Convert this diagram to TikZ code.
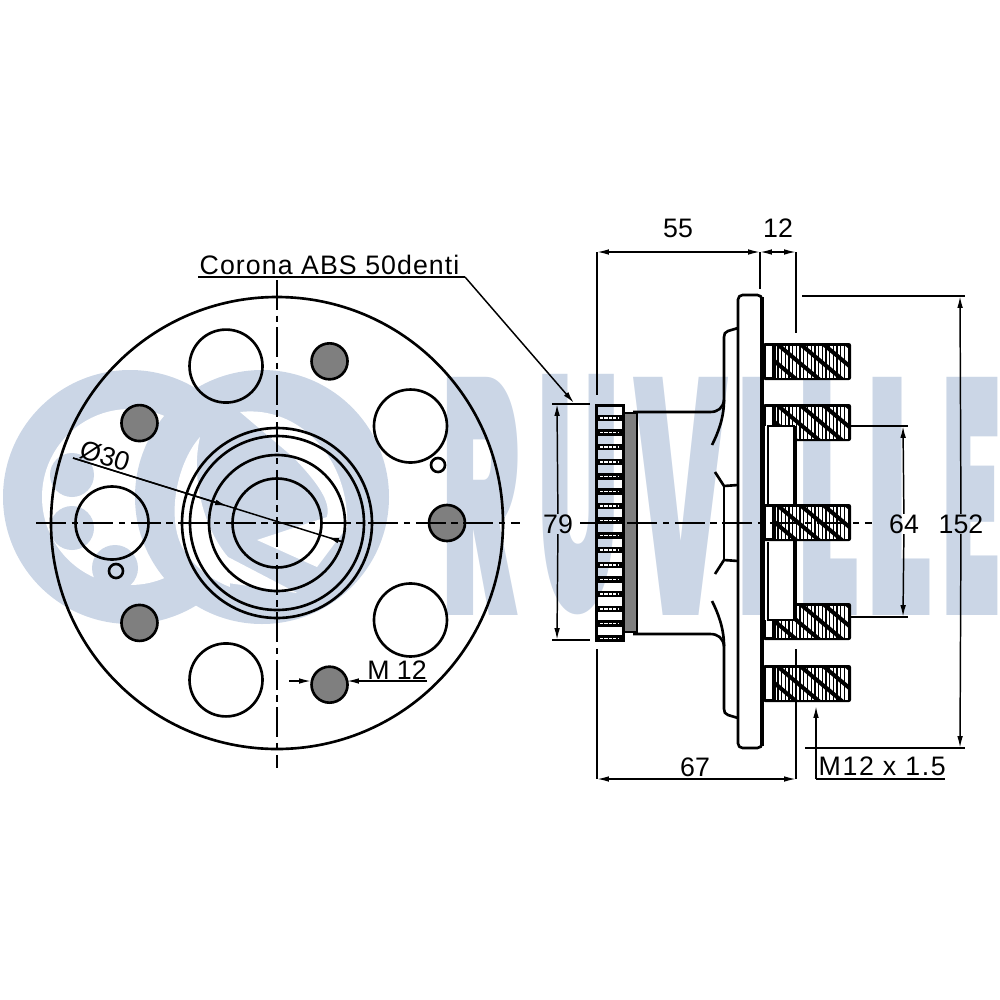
\documentclass[tikz,border=0pt]{standalone}
\usepackage{fontspec}
\setmainfont{Liberation Sans}
\newfontfamily\logofont{Poppins Black}
\usetikzlibrary{arrows.meta}
\definecolor{LogoBlue}{HTML}{CBD6E6}
\definecolor{StudGray}{HTML}{7F7F7F}
\newcommand{\LogoLetter}[2]{\resizebox{#1cm}{2.38cm}{\logofont #2}}

\begin{document}
\begin{tikzpicture}[x=0.01cm,y=-0.01cm]
\useasboundingbox (0,0) rectangle (1000,1000);

\tikzset{LogoStyle/.style = {text = LogoBlue, anchor = south west, inner sep = 0pt} }

\fill[LogoBlue] (130,497) circle[radius=127];
\fill[white] (130,497) circle[radius=88];
\fill[LogoBlue] (72,475) circle[radius=22];
\fill[LogoBlue] (72,528) circle[radius=22];
\fill[LogoBlue] (115,568) circle[radius=23];
\fill[LogoBlue] (262,497) circle[radius=127];
\fill[white] (200,437) .. controls (175,465) and (165,525) .. (186,553) .. controls (196,568) and (212,580) .. (230,587) -- (228,557) .. controls (205,530) and (190,480) .. cycle;
\fill[white] (240,412) .. controls (300,405) and (350,460) .. (347,527) -- (317,567) -- (257,540) -- (327,517) .. controls (330,505) and (325,490) .. (293,457) -- cycle;
\fill[white] (228,557) -- (297,593) -- (228,583) -- cycle;

\node[LogoStyle] (LogoR) at (441,616) {\LogoLetter{0.79}{R}};
\node[LogoStyle] (LogoU) at (537,616) {\LogoLetter{0.82}{U}};
\node[LogoStyle] (LogoV) at (633,616) {\LogoLetter{0.95}{V}};
\node[LogoStyle] (LogoI) at (738,616) {\LogoLetter{0.29}{I}};
\node[LogoStyle] (LogoL1) at (797,616) {\LogoLetter{0.62}{L}};
\node[LogoStyle] (LogoL2) at (866,616) {\LogoLetter{0.66}{L}};
\node[LogoStyle] (LogoE) at (941,616) {\LogoLetter{0.60}{E}};

\coordinate (W_l) at (36,523);
\coordinate (W_r) at (520,523);
\coordinate (W_t) at (277,280);
\coordinate (W_b) at (277,768);
\coordinate (S_l) at (73,458);
\coordinate (S_a) at (227,506);
\coordinate (S_b) at (327,537);
\coordinate (S_r) at (343,542);
\coordinate (M_l) at (289,681);
\coordinate (M_a) at (311,681);
\coordinate (M_b) at (347,681);
\coordinate (M_r) at (427,681);
\coordinate (C_l) at (198,277);
\coordinate (C_r) at (465,277);
\coordinate (C_e) at (574,403);

\tikzset{RimStyle/.style = {line width=0.75pt} }
\tikzset{ThinStyle/.style = {line width=0.42pt} }
\tikzset{AxisStyle/.style = {line width=0.5pt, dash pattern=on 8.5pt off 1.6pt on 1.8pt off 1.6pt} }
\tikzset{DimStyle/.style = {line width=0.42pt, >={Latex[length=3.4pt,width=1.6pt]} } }
\tikzset{LabelStyle/.style = {font=\fontsize{7.6}{9}\selectfont, inner sep=0pt} }

\draw[RimStyle] (277,523) circle[radius=226];
\foreach \r in {95,87,68,44.5} {
  \draw[RimStyle] (277,523) circle[radius=\r];
}
\foreach \a in {108,36,-36,-108,180} {
  \draw[RimStyle] ({277+165*cos(\a)},{523-165*sin(\a)}) circle[radius=36.5];
}
\foreach \a in {0,72,144,-144,-72} {
  \draw[RimStyle, fill=StudGray] ({277+170*cos(\a)},{523-170*sin(\a)}) circle[radius=18];
}
\draw[RimStyle] (438,465) circle[radius=7];
\draw[RimStyle] (116,571) circle[radius=7];

\draw[AxisStyle] (W_l) -- (W_r);
\draw[AxisStyle] (W_t) -- (W_b);

\draw[DimStyle] (S_l) -- (S_r);
\draw[DimStyle, ->] (S_l) -- (S_a);
\draw[DimStyle, ->] (S_r) -- (S_b);
\node[LabelStyle, rotate=-17] (T30) at (105,456) {Ø30};

\draw[DimStyle, ->] (M_l) -- (M_a);
\draw[DimStyle, ->] (M_r) -- (M_b);
\node[LabelStyle, anchor=south] (TM12) at (397,680) {M 12};

\draw[ThinStyle] (C_l) -- (C_r);
\draw[DimStyle, ->] (C_r) -- (C_e);
\node[LabelStyle, anchor=base west] (TCorona) at (199,274) {\addfontfeature{LetterSpace=4}Corona ABS 50denti};

\draw[RimStyle, rounded corners=1.3pt] (738,295) rectangle (762,748);
\draw[line width=1pt] (762,297) -- (762,746);

\foreach \s in {1,-1} {
\begin{scope}[shift={(0,523)},yscale=\s]
\draw[RimStyle] (738,-195) -- (728,-192) .. controls (725,-191) and (724,-189) .. (724,-186) -- (724,-123);
\draw[RimStyle] (724,-123) .. controls (723,-115) and (718,-111) .. (710,-111) -- (633,-111);
\draw[RimStyle] (724,-123) .. controls (724,-105) and (718,-90) .. (712,-78);
\draw[RimStyle] (715,-51) -- (724,-37) -- (738,-38);
\draw[RimStyle] (724,-37) -- (724,0);
\end{scope}
}

\fill[StudGray] (623,413) rectangle (637,632);
\draw[RimStyle] (623,413) -- (637,413) -- (637,632) -- (623,632);
\draw[line width=0.85pt] (596,405) rectangle (623,640);
\foreach \k in {0,...,15} {
  \fill[black] (596,{414.5+14.7*\k}) rectangle (623,{414.5+14.7*\k+6.5});
  \draw[white, line width=0.45pt, dash pattern=on 0.9pt off 0.35pt] (600,{417.8+14.7*\k}) -- (619,{417.8+14.7*\k});
}

\foreach \y in {343,404,504,603,665} {
  \fill[black, rounded corners=0.6pt] (763,\y) rectangle (851,\y+37);
  \fill[white] (766,\y+3) rectangle (772,\y+34);
  \begin{scope}
  \clip (776,\y+3) rectangle (849,\y+34);
  \foreach \x in {776,779.7,...,849} {
    \draw[white, line width=0.68pt] (\x,\y) -- (\x,\y+37);
  }
  \foreach \x in {730,753,...,850} {
    \draw[black, line width=1.15pt] (\x,\y) -- (\x+44,\y+37);
  }
  \end{scope}
}

\fill[white] (765,426) rectangle (795,442);
\fill[white] (765,602) rectangle (795,620);
\draw[RimStyle] (768,504) -- (768,426) -- (795,426);
\draw[RimStyle] (768,542) -- (768,620) -- (795,620);
\draw[line width=1pt] (795,426) -- (795,504);
\draw[line width=1pt] (795,540) -- (795,620);
\draw[line width=0.9pt] (763,426) -- (763,620);

\coordinate (D_l) at (597,252);
\coordinate (D_m) at (760,252);
\coordinate (D_r) at (796,252);
\coordinate (D_lt) at (597,395);
\coordinate (D_mt) at (760,289);
\coordinate (D_rt) at (796,333);
\coordinate (D67_l) at (597,779);
\coordinate (D67_r) at (796,779);
\coordinate (D67_lt) at (597,649);
\coordinate (D67_rt) at (796,649);
\coordinate (D79_t) at (557,404);
\coordinate (D79_b) at (557,640);
\coordinate (D64_t) at (903,426);
\coordinate (D64_b) at (903,617);
\coordinate (D152_t) at (960,296);
\coordinate (D152_b) at (960,748);
\coordinate (M15_t) at (816,706);
\coordinate (M15_l) at (816,779);
\coordinate (M15_r) at (945,779);

\node[LabelStyle] (T55) at (678,228) {55};
\node[LabelStyle] (T12) at (778,228) {12};
\node[LabelStyle] (T67) at (695,767) {67};
\node[LabelStyle] (T79) at (558,524) {79};
\node[LabelStyle] (T64) at (904,524) {64};
\node[LabelStyle] (T152) at (961,524) {152};
\node[LabelStyle, anchor=base west] (TM15) at (818,775) {\addfontfeature{LetterSpace=6}M12 x 1.5};

\draw[DimStyle, <->] (D_l) -- (D_m);
\draw[DimStyle, <->] (D_m) -- (D_r);
\draw[DimStyle, <->] (D67_l) -- (D67_r);
\draw[DimStyle] (D_l) -- (D_lt);
\draw[DimStyle] (D_m) -- (D_mt);
\draw[DimStyle] (D_r) -- (D_rt);
\draw[DimStyle] (D67_l) -- (D67_lt);
\draw[DimStyle] (D67_r) -- (D67_rt);
\draw[DimStyle, ->] (T79) -- (D79_t);
\draw[DimStyle, ->] (T79) -- (D79_b);
\draw[DimStyle, ->] (T64) -- (D64_t);
\draw[DimStyle, ->] (T64) -- (D64_b);
\draw[DimStyle, ->] (T152) -- (D152_t);
\draw[DimStyle, ->] (T152) -- (D152_b);
\draw[DimStyle] (552,404) -- (590,404);
\draw[DimStyle] (552,640) -- (590,640);
\draw[DimStyle] (851,426) -- (908,426);
\draw[DimStyle] (851,617) -- (908,617);
\draw[DimStyle] (802,296) -- (965,296);
\draw[DimStyle] (805,748) -- (965,748);
\draw[DimStyle, ->] (M15_l) -- (M15_t);
\draw[ThinStyle] (M15_l) -- (M15_r);

\draw[AxisStyle] (580,523) -- (872,523);

\end{tikzpicture}
\end{document}
